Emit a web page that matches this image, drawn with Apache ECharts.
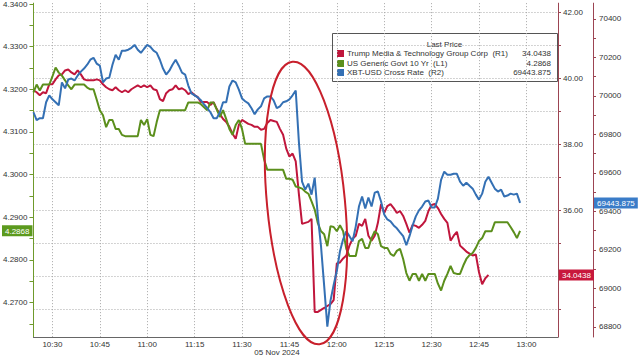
<!DOCTYPE html>
<html>
<head>
<meta charset="utf-8">
<script src="https://cdn.jsdelivr.net/npm/echarts@6/dist/echarts.min.js"></script>
<style>html,body{margin:0;padding:0;background:#fff}#c{width:640px;height:358px}</style>
</head>
<body>
<div id="c"></div>
<script>
// ---------- data ----------
const seriesNames = ['Trump Media & Technology Group Corp  (R1)', 'US Generic Govt 10 Yr  (L1)', 'XBT-USD Cross Rate  (R2)'];
const legendTitle = 'Last Price';
const dateLabel = '05 Nov 2024';
const xTickLabels = ['10:30','10:45','11:00','11:15','11:30','11:45','12:00','12:15','12:30','12:45','13:00'];
const firstTime = '10:24';
const lastTime = '13:10';
const leftTicks = [4.27, 4.28, 4.29, 4.30, 4.31, 4.32, 4.33, 4.34];
const r1Ticks = [34, 36, 38, 40, 42];
const r1Labels = [36, 38, 40, 42]; // 34.00 sits under the last-price tag
const r2Ticks = [68800, 69000, 69200, 69400, 69600, 69800, 70000, 70200, 70400];

// one value per minute starting 10:24
const trumpMedia = [
 39.635,39.575,39.486,39.575,39.546,39.815,39.815,39.965,40.084,40.114,
 40.234,40.264,40.174,40.114,40.234,40.114,39.965,39.935,39.935,39.935,
 39.965,39.935,39.815,39.725,39.665,39.635,39.725,39.635,39.575,39.635,
 39.575,39.665,39.725,39.785,39.725,39.785,39.725,39.785,39.665,39.635,
 39.366,39.306,39.546,39.635,39.665,39.785,39.665,39.695,39.635,39.516,
 39.575,39.486,39.426,39.276,39.276,39.276,39.186,39.276,39.066,38.917,
 38.767,38.677,38.527,38.318,38.168,38.587,38.737,38.677,38.617,38.587,
 38.527,38.527,38.438,38.467,38.647,38.737,38.707,38.677,38.467,38.288,
 37.869,37.629,37.719,37.480,36.491,35.593,35.623,35.653,35.743,32.929,
 32.929,32.990,33.048,33.108,33.168,33.288,34.396,34.426,34.546,34.635,
 34.935,35.144,35.234,35.593,35.533,35.743,35.234,35.084,35.234,35.623,
 36.192,35.922,36.132,36.192,36.072,35.922,35.982,35.833,35.593,35.324,
 35.563,35.533,35.473,35.563,35.683,35.982,36.162,36.192,36.072,35.892,
 35.743,35.623,35.084,35.234,35.354,34.935,34.845,34.755,34.695,34.635,
 34.665,34.126,33.767,33.947,34.0438
];
const usGovt10Y = [
 4.3193,4.3211,4.3197,4.3211,4.3211,4.3211,4.3230,4.3251,4.3239,4.3232,
 4.3221,4.3209,4.3200,4.3211,4.3211,4.3211,4.3211,4.3204,4.3200,4.3200,
 4.3176,4.3151,4.3139,4.3111,4.3128,4.3128,4.3107,4.3107,4.3093,4.3090,
 4.3090,4.3090,4.3090,4.3090,4.3128,4.3116,4.3130,4.3093,4.3090,4.3123,
 4.3151,4.3151,4.3151,4.3151,4.3151,4.3151,4.3151,4.3151,4.3151,4.3169,
 4.3169,4.3169,4.3169,4.3165,4.3158,4.3151,4.3169,4.3169,4.3153,4.3135,
 4.3151,4.3130,4.3107,4.3093,4.3116,4.3128,4.3107,4.3072,4.3072,4.3072,
 4.3072,4.3072,4.3072,4.3035,4.3011,4.3011,4.3011,4.3011,4.3011,4.3011,
 4.2990,4.2990,4.2988,4.2972,4.2970,4.2967,4.2960,4.2955,4.2937,4.2918,
 4.2886,4.2867,4.2860,4.2832,4.2879,4.2877,4.2867,4.2881,4.2867,4.2826,
 4.2809,4.2809,4.2809,4.2844,4.2849,4.2828,4.2828,4.2851,4.2867,4.2860,
 4.2832,4.2828,4.2828,4.2814,4.2809,4.2821,4.2826,4.2802,4.2769,4.2751,
 4.2767,4.2767,4.2751,4.2767,4.2751,4.2767,4.2767,4.2767,4.2744,4.2728,
 4.2751,4.2767,4.2786,4.2769,4.2767,4.2767,4.2786,4.2802,4.2811,4.2816,
 4.2828,4.2844,4.2851,4.2867,4.2867,4.2867,4.2888,4.2888,4.2888,4.2888,
 4.2888,4.2877,4.2865,4.2851,4.2868
];
const xbtUsd = [
 69915,69874,69884,69884,69967,70003,69982,69967,69951,70070,
 70039,70085,70090,70080,70106,70126,70142,70162,70188,70198,
 70168,70157,70070,70090,70095,70162,70214,70188,70235,70235,
 70240,70250,70265,70240,70224,70245,70265,70255,70235,70224,
 70188,70142,70111,70131,70162,70188,70157,70121,70111,70054,
 70013,70003,69992,69977,69956,69936,69915,69884,69884,69915,
 69967,69967,70049,70080,70070,70033,69987,69972,69961,69936,
 69905,69930,69946,69987,69997,69997,69977,69936,69946,69967,
 69972,69982,70003,70028,69760,69554,69513,69544,69487,69575,
 69374,69219,69013,68801,68936,69018,69090,69193,69255,69296,
 69271,69245,69322,69425,69477,69415,69472,69425,69497,69503,
 69451,69384,69358,69348,69327,69312,69291,69271,69224,69271,
 69327,69374,69405,69425,69451,69456,69420,69420,69466,69564,
 69606,69590,69590,69595,69595,69554,69533,69549,69533,69518,
 69487,69461,69492,69554,69580,69549,69518,69503,69513,69477,
 69482,69492,69487,69492,69443.875
];

// ---------- build ----------
function toMin(s){const p=s.split(':');return +p[0]*60+ +p[1];}
function toHM(m){return String(Math.floor(m/60)).padStart(2,'0')+':'+String(m%60).padStart(2,'0');}
const timeCategories=[];
for(let m=toMin(firstTime);m<=toMin(lastTime);m++) timeCategories.push(toHM(m));
const isTick=(i)=>xTickLabels.indexOf(timeCategories[i])>=0;

const FONT='Liberation Sans';
const RED='#c0163c', GREEN='#5b8f1c', BLUE='#3470b4';
const AX_RED='#9c4452', AX_GREEN='#6f9a2c';
const last=a=>a[a.length-1];
const halfSteps=(arr)=>{const out=[];for(let i=0;i<arr.length;i++){out.push(arr[i]);if(i<arr.length-1)out.push((arr[i]+arr[i+1])/2);}return out;};
const withEnds=(arr,lo,hi,step)=>{const out=halfSteps(arr);out.unshift(arr[0]-step/2);out.push(arr[arr.length-1]+step/2);return out.filter(v=>v>=lo&&v<=hi);};

const LMIN=4.2619,LMAX=4.3402,R1MIN=32.17,R1MAX=42.27,R2MIN=68747,R2MAX=70482;

function tagPointer(val,color,fmt){
  return {show:true,status:'show',value:val,triggerTooltip:false,
    lineStyle:{opacity:0,width:0},
    label:{show:true,formatter:()=>fmt(val),backgroundColor:color,color:'#fff',
      padding:[2,3,1,3],fontSize:8,fontFamily:FONT,margin:1,borderRadius:0}};
}

const chart=echarts.init(document.getElementById('c'),null,{renderer:'svg'});
chart.setOption({
  animation:false,
  backgroundColor:'#fff',
  axisPointer:{triggerOn:'none'},
  grid:{left:31,right:82,top:0,bottom:21,containLabel:false},
  xAxis:{type:'category',data:timeCategories,boundaryGap:false,
    axisLine:{lineStyle:{color:'#666',width:1}},
    axisTick:{show:false},
    axisLabel:{interval:(i)=>isTick(i),color:'#333',fontSize:8,fontFamily:FONT,margin:3},
    splitLine:{show:true,interval:(i)=>isTick(i),lineStyle:{color:'#a8a8a8',type:[1,2],width:1}}},
  yAxis:[
    {type:'value',position:'left',min:LMIN,max:LMAX,
      axisLine:{show:true,lineStyle:{color:AX_GREEN,width:1}},
      axisTick:{show:true,inside:false,length:4,customValues:withEnds(leftTicks,LMIN,LMAX,0.01),lineStyle:{color:AX_GREEN}},
      axisLabel:{customValues:leftTicks,formatter:v=>v.toFixed(4),color:'#333',fontSize:8,fontFamily:FONT,margin:6},
      splitLine:{show:false},
      axisPointer:tagPointer(last(usGovt10Y),'#5c9a1e',v=>v.toFixed(4))},
    {type:'value',position:'right',offset:0,min:R1MIN,max:R1MAX,
      axisLine:{show:true,lineStyle:{color:AX_RED,width:1}},
      axisTick:{show:true,length:3,customValues:withEnds(r1Ticks,R1MIN,R1MAX,2),lineStyle:{color:AX_RED}},
      axisLabel:{customValues:r1Labels,formatter:v=>v.toFixed(2),color:'#333',fontSize:8,fontFamily:FONT,margin:5},
      splitLine:{show:true,lineStyle:{color:'#a8a8a8',type:[1,2],width:1}},
      axisPointer:tagPointer(last(trumpMedia),'#c8183c',v=>v.toFixed(4))},
    {type:'value',position:'right',offset:35,min:R2MIN,max:R2MAX,
      axisLine:{show:true,lineStyle:{color:AX_RED,width:1}},
      axisTick:{show:true,length:3,customValues:withEnds(r2Ticks,R2MIN,R2MAX,200),lineStyle:{color:AX_RED}},
      axisLabel:{customValues:r2Ticks,formatter:v=>String(v),color:'#333',fontSize:8,fontFamily:FONT,margin:6},
      splitLine:{show:false},
      axisPointer:tagPointer(last(xbtUsd),'#3a7cc8',v=>v.toFixed(3))}
  ],
  series:[
    {name:seriesNames[0],type:'line',yAxisIndex:1,data:trumpMedia,showSymbol:false,lineStyle:{color:RED,width:2},itemStyle:{color:RED},z:3},
    {name:seriesNames[1],type:'line',yAxisIndex:0,data:usGovt10Y,showSymbol:false,lineStyle:{color:GREEN,width:2},itemStyle:{color:GREEN},z:3},
    {name:seriesNames[2],type:'line',yAxisIndex:2,data:xbtUsd,showSymbol:false,lineStyle:{color:BLUE,width:2},itemStyle:{color:BLUE},z:3}
  ],
  graphic:[
    {type:'ellipse',x:306,y:203,rotation:0.095,shape:{cx:0,cy:0,rx:39,ry:142},
      style:{fill:'none',stroke:'#c8202c',lineWidth:2},z:50},
    {type:'text',x:277,y:352,style:{text:dateLabel,fill:'#333',font:'8px "Liberation Sans"',textAlign:'center',textVerticalAlign:'middle'},z:50},
    {type:'group',z:60,children:[
      {type:'rect',shape:{x:332.5,y:33.5,width:225,height:48},style:{fill:'#fff',stroke:'#555',lineWidth:1}},
      {type:'text',x:444.5,y:44,style:{text:legendTitle,fill:'#333',font:'8px "Liberation Sans"',textAlign:'center',textVerticalAlign:'middle'}},
      {type:'rect',shape:{x:337,y:50,width:7,height:7},style:{fill:RED}},
      {type:'rect',shape:{x:337,y:60,width:7,height:7},style:{fill:GREEN}},
      {type:'rect',shape:{x:337,y:69,width:7,height:7},style:{fill:BLUE}},
      {type:'text',x:347,y:53.5,style:{text:seriesNames[0],fill:'#333',font:'8px "Liberation Sans"',textAlign:'left',textVerticalAlign:'middle'}},
      {type:'text',x:347,y:63.5,style:{text:seriesNames[1],fill:'#333',font:'8px "Liberation Sans"',textAlign:'left',textVerticalAlign:'middle'}},
      {type:'text',x:347,y:72.5,style:{text:seriesNames[2],fill:'#333',font:'8px "Liberation Sans"',textAlign:'left',textVerticalAlign:'middle'}},
      {type:'text',x:551,y:53.5,style:{text:last(trumpMedia).toFixed(4),fill:'#333',font:'8px "Liberation Sans"',textAlign:'right',textVerticalAlign:'middle'}},
      {type:'text',x:551,y:63.5,style:{text:last(usGovt10Y).toFixed(4),fill:'#333',font:'8px "Liberation Sans"',textAlign:'right',textVerticalAlign:'middle'}},
      {type:'text',x:551,y:72.5,style:{text:last(xbtUsd).toFixed(3),fill:'#333',font:'8px "Liberation Sans"',textAlign:'right',textVerticalAlign:'middle'}}
    ]}
  ]
});
</script>
</body>
</html>
